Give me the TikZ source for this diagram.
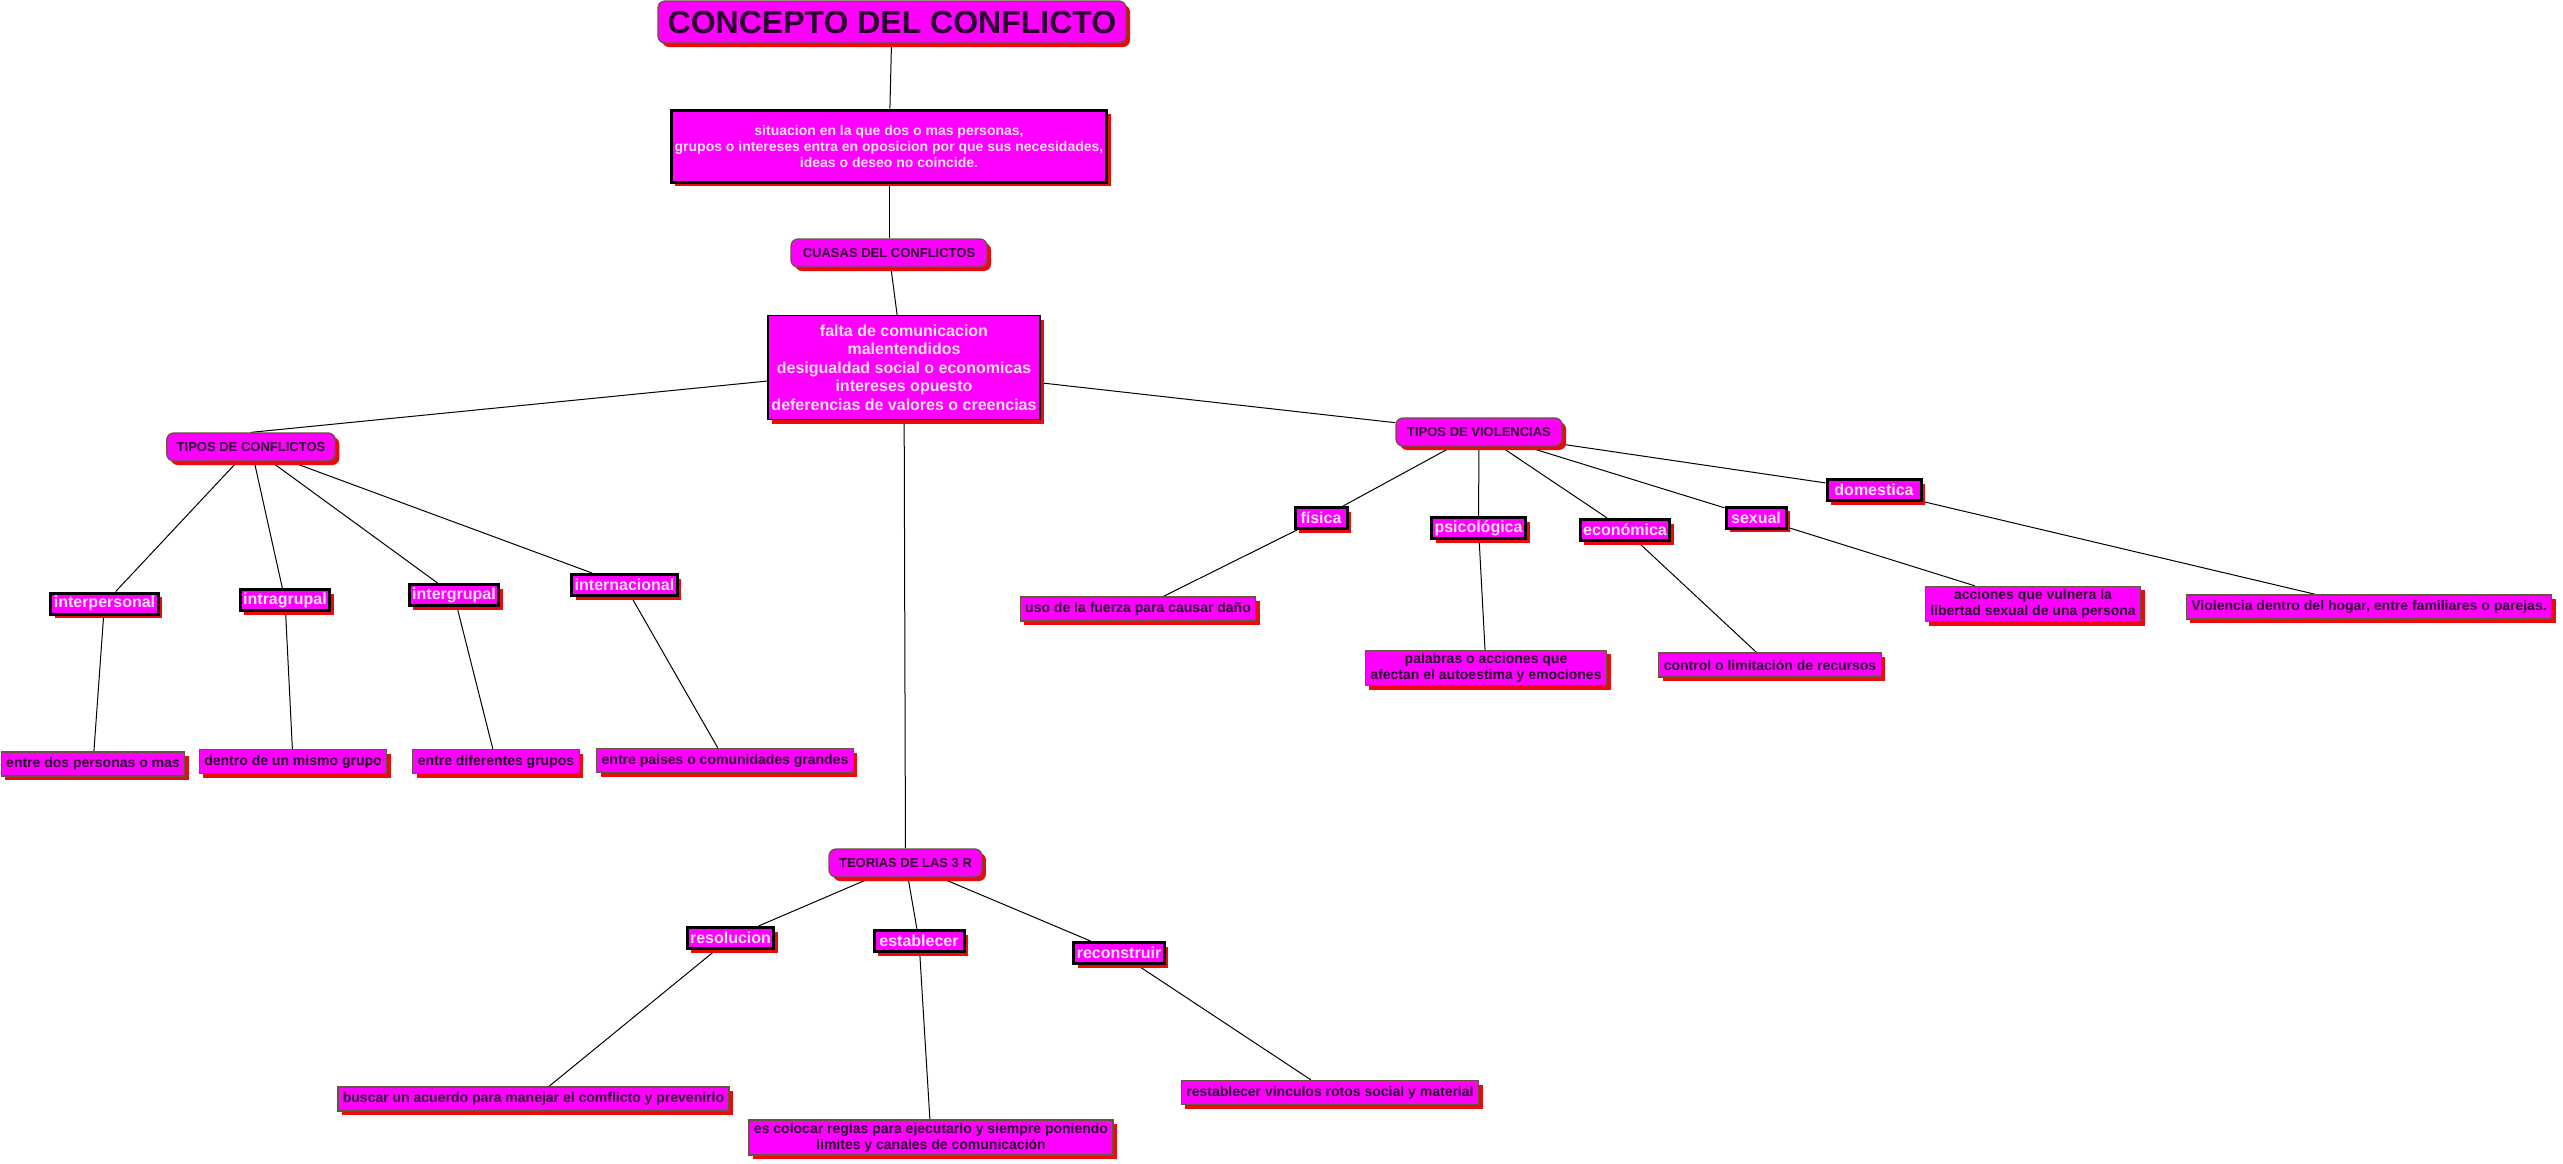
\documentclass[tikz,border=0pt]{standalone}
\usepackage{fontspec}
\setmainfont{Liberation Sans}
\usetikzlibrary{shadows,backgrounds}

\definecolor{cmfill}{RGB}{255,0,255}
\definecolor{cmshadow}{RGB}{236,10,10}
\definecolor{cmedge}{RGB}{100,85,60}
\definecolor{cmdark}{RGB}{40,0,45}
\definecolor{cmlight}{RGB}{250,225,250}

\begin{document}
\begin{tikzpicture}[
    x=1pt, y=-1pt,
    redshadow/.style={drop shadow={fill=cmshadow, opacity=1, shadow xshift=4pt, shadow yshift=-4pt}},
    topic/.style={redshadow, draw=cmedge, line width=1.3pt, rounded corners=7pt, fill=cmfill, text=cmdark, font=\bfseries\fontsize{13}{15}\selectfont, minimum height=28pt, inner xsep=10pt},
    note/.style={redshadow, draw=black, fill=cmfill, text=cmlight, align=center},
    tag/.style={redshadow, draw=black, line width=3pt, fill=cmfill, text=cmlight, font=\bfseries\fontsize{16}{18}\selectfont, minimum height=21pt, inner xsep=3pt, inner ysep=1pt},
    leaf/.style={redshadow, draw=cmedge, line width=1.3pt, fill=cmfill, text=cmdark, font=\bfseries\fontsize{14}{16}\selectfont, align=center, minimum height=24pt, inner xsep=5pt, inner ysep=3pt},
    line/.style={draw=black, line width=1pt}
]
    \useasboundingbox (0,0) rectangle (2563,1163);

    \node[topic, font=\bfseries\fontsize{32}{38}\selectfont, inner xsep=5pt, minimum width=468pt, minimum height=42pt] (title) at (892,22) {CONCEPTO DEL CONFLICTO};
    \node[note, line width=3pt, font=\bfseries\fontsize{14}{16}\selectfont, minimum width=435pt, minimum height=72pt] (def) at (889,146) {situacion en la que dos o mas personas,\\grupos o intereses entra en oposicion por que sus necesidades,\\ideas o deseo no coincide.};
    \node[topic, minimum width=196pt] (causas) at (889,253) {CUASAS DEL CONFLICTOS};
    \node[note, line width=1.2pt, font=\bfseries\fontsize{16}{18.5}\selectfont, minimum width=272pt, minimum height=104pt] (listado) at (904,367.5) {falta de comunicacion\\malentendidos\\desigualdad social o economicas\\intereses opuesto\\deferencias de valores o creencias};

    \node[topic, minimum width=168pt] (tconf) at (251,447) {TIPOS DE CONFLICTOS};
    \node[tag] (interp) at (104.5,603.5) {interpersonal};
    \node[tag] (intra) at (285,600) {intragrupal};
    \node[tag] (inter) at (454,595) {intergrupal};
    \node[tag] (internac) at (624.5,585) {internacional};
    \node[leaf] (dinterp) at (93,764) {entre dos personas o mas};
    \node[leaf] (dintra) at (293,761.5) {dentro de un mismo grupo};
    \node[leaf] (dinter) at (496,761.5) {entre diferentes grupos};
    \node[leaf] (dinternac) at (725,760.5) {entre paises o comunidades grandes};

    \node[topic, minimum width=166pt] (tviol) at (1479,432) {TIPOS DE VIOLENCIAS};
    \node[tag, minimum width=52pt] (fisica) at (1321,518) {física};
    \node[tag] (psico) at (1478.5,528) {psicológica};
    \node[tag] (econ) at (1625,530) {económica};
    \node[tag, minimum width=60pt] (sexual) at (1756,517.5) {sexual};
    \node[tag, minimum width=94pt] (domest) at (1874,490) {domestica};
    \node[leaf] (dfisica) at (1138,609) {uso de la fuerza para causar daño};
    \node[leaf] (dpsico) at (1486,668) {palabras o acciones que\\afectan el autoestima y emociones};
    \node[leaf] (decon) at (1770,665) {control o limitación de recursos};
    \node[leaf] (dsexual) at (2033,604) {acciones que vulnera la\\libertad sexual de una persona};
    \node[leaf] (ddomest) at (2369,607) {Violencia dentro del hogar, entre familiares o parejas.};

    \node[topic, minimum width=151pt] (teorias) at (905.5,863) {TEORIAS DE LAS 3 R};
    \node[tag] (resol) at (730.5,938) {resolucion};
    \node[tag, minimum width=90pt] (estab) at (919,941) {establecer};
    \node[tag, minimum width=90pt] (recons) at (1119,953) {reconstruir};
    \node[leaf] (dresol) at (533.5,1099) {buscar un acuerdo para manejar el comflicto y prevenirlo};
    \node[leaf] (destab) at (931,1137.5) {es colocar reglas para ejecutarlo y siempre poniendo\\limites y canales de comunicación};
    \node[leaf] (drecons) at (1330,1092.5) {restablecer vinculos rotos social y material};

    \begin{scope}[on background layer]
        \fill[white] (0,0) rectangle (2563,1163);
        \draw[line] (title) -- (def);
        \draw[line] (def) -- (causas);
        \draw[line] (causas) -- (listado);
        \draw[line] (listado) -- (tconf.north);
        \draw[line] (listado) -- (tviol);
        \draw[line] (listado) -- (teorias);

        \draw[line] (tconf) -- (interp);
        \draw[line] (tconf) -- (intra);
        \draw[line] (tconf) -- (inter);
        \draw[line] (tconf) -- (internac);
        \draw[line] (interp) -- (dinterp);
        \draw[line] (intra) -- (dintra);
        \draw[line] (inter) -- (dinter);
        \draw[line] (internac) -- (dinternac);

        \draw[line] (tviol) -- (fisica);
        \draw[line] (tviol) -- (psico);
        \draw[line] (tviol) -- (econ);
        \draw[line] (tviol) -- (sexual);
        \draw[line] (tviol) -- (domest);
        \draw[line] (fisica) -- (dfisica);
        \draw[line] (psico) -- (dpsico);
        \draw[line] (econ) -- (decon);
        \draw[line] (sexual) -- (dsexual);
        \draw[line] (domest) -- (ddomest);

        \draw[line] (teorias) -- (resol);
        \draw[line] (teorias) -- (estab);
        \draw[line] (teorias) -- (recons);
        \draw[line] (resol) -- (dresol);
        \draw[line] (estab) -- (destab);
        \draw[line] (recons) -- (drecons);
    \end{scope}
\end{tikzpicture}
\end{document}
